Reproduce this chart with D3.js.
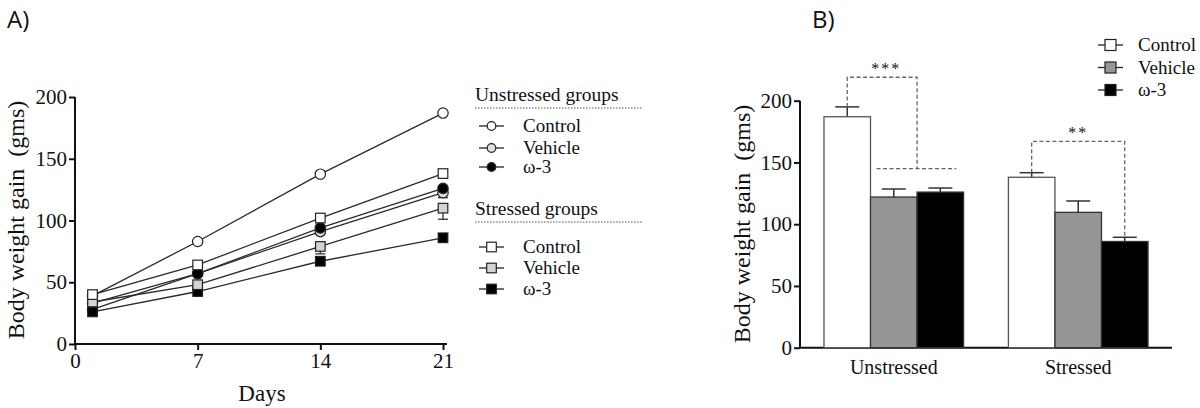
<!DOCTYPE html>
<html><head><meta charset="utf-8">
<script src="https://cdn.jsdelivr.net/npm/d3@7"></script>
<style>
body{margin:0;background:#fff;}
text{font-family:"Liberation Serif","Times New Roman",serif;fill:#111;white-space:pre;}
</style></head>
<body><svg id="c" width="1200" height="408"></svg>
<script>
// ---- Panel A data ----
const days = [1, 7, 14, 21];
const xTicksA = [0, 7, 14, 21];
const yTicks = [0, 50, 100, 150, 200];
const unstressedControl = [39, 83, 137.5, 187];
const unstressedVehicle = [33, 57, 91, 122.5];
const unstressedOmega = [28, 57, 94, 126];
const stressedControl = [40, 64, 102, 138];
const stressedVehicle = [34, 48, 79, 110];
const stressedOmega = [26, 42.5, 67, 86];
const stressedVehicleErr = [2, 3, 6, 9];
const unstressedVehicleErr = [1, 2, 2, 4];
// ---- Panel B data ----
const groups = ["Unstressed", "Stressed"];
const treatments = ["Control", "Vehicle", "ω-3"];
const barMeans = [[187, 122, 126], [138, 109.6, 86]];
const barErr = [[8, 6.5, 3.3], [3.7, 9.2, 3.4]];

const svg = d3.select("#c");
const SERIF = "Liberation Serif, Times New Roman, serif";

// ===== Panel A =====
const xA = d3.scaleLinear().domain([0, 21]).range([75, 443]);
const yA = d3.scaleLinear().domain([0, 200]).range([344, 97]);

svg.append("text").attr("x", 7).attr("y", 28).style("font-family", "Open Sans, sans-serif")
  .style("font-size", "24px").text("A)");

const gyA = svg.append("g").attr("transform", "translate(75,0)")
  .call(d3.axisLeft(yA).tickValues(yTicks).tickSize(6).tickPadding(2));
const gxA = svg.append("g").attr("transform", "translate(0,344)")
  .call(d3.axisBottom(xA).tickValues(xTicksA).tickSize(6).tickPadding(3));
gxA.select(".domain").attr("d", "M75,0H447");
gyA.select(".domain").attr("d", "M0,97V344");
[gyA, gxA].forEach(g => {
  g.attr("font-family", SERIF);
  g.select(".domain").attr("stroke", "#111").attr("stroke-width", 2);
  g.selectAll(".tick line").attr("stroke", "#111").attr("stroke-width", 2);
  g.selectAll(".tick text").style("font-size", "21px").style("font-family", SERIF).attr("fill", "#222");
});

svg.append("text").attr("transform", "translate(24,220) rotate(-90)").attr("text-anchor", "middle")
  .style("font-size", "24px").text("Body weight gain  (gms)");
svg.append("text").attr("x", 262).attr("y", 401).attr("text-anchor", "middle")
  .style("font-size", "23px").text("Days");

const seriesA = [
  {v: unstressedControl, shape: "circle", fill: "#fff"},
  {v: unstressedVehicle, shape: "circle", fill: "#dedede", err: unstressedVehicleErr},
  {v: unstressedOmega, shape: "circle", fill: "#000"},
  {v: stressedOmega, shape: "square", fill: "#000"},
  {v: stressedVehicle, shape: "square", fill: "#d4d4d4", err: stressedVehicleErr},
  {v: stressedControl, shape: "square", fill: "#fff"}
];
const lineA = d3.line().x((d, i) => xA(days[i])).y(d => yA(d));
seriesA.forEach(s => {
  svg.append("path").attr("d", lineA(s.v)).attr("fill", "none").attr("stroke", "#2a2a2a").attr("stroke-width", 1.3);
});
seriesA.forEach(s => {
  if (s.err) {
    s.v.forEach((d, i) => {
      const x = xA(days[i]);
      svg.append("line").attr("x1", x).attr("x2", x).attr("y1", yA(d)).attr("y2", yA(d - s.err[i])).attr("stroke", "#333").attr("stroke-width", 1.3);
      svg.append("line").attr("x1", x - 5).attr("x2", x + 5).attr("y1", yA(d - s.err[i])).attr("y2", yA(d - s.err[i])).attr("stroke", "#333").attr("stroke-width", 1.3);
    });
  }
});
function marker(g, shape, x, y, fill, r) {
  if (shape === "circle") {
    g.append("circle").attr("cx", x).attr("cy", y).attr("r", r).attr("fill", fill).attr("stroke", "#222").attr("stroke-width", 1.2);
  } else {
    g.append("rect").attr("x", x - r).attr("y", y - r).attr("width", 2 * r).attr("height", 2 * r)
      .attr("fill", fill).attr("stroke", "#222").attr("stroke-width", 1.2);
  }
}
seriesA.forEach(s => {
  s.v.forEach((d, i) => marker(svg, s.shape, xA(days[i]), yA(d), s.fill, s.shape === "circle" ? 5.2 : 4.8));
});

// Legend A
const legA = [
  {title: "Unstressed groups", ty: 101, ly: 108, items: [
    {label: "Control", shape: "circle", fill: "#fff", y: 126},
    {label: "Vehicle", shape: "circle", fill: "#dedede", y: 148},
    {label: "ω-3", shape: "circle", fill: "#000", y: 167}]},
  {title: "Stressed groups", ty: 215, ly: 222, items: [
    {label: "Control", shape: "square", fill: "#fff", y: 247},
    {label: "Vehicle", shape: "square", fill: "#d4d4d4", y: 268},
    {label: "ω-3", shape: "square", fill: "#000", y: 289}]}
];
legA.forEach(L => {
  svg.append("text").attr("x", 475).attr("y", L.ty).style("font-size", "19.5px").text(L.title);
  svg.append("line").attr("x1", 475).attr("x2", 643).attr("y1", L.ly).attr("y2", L.ly)
    .attr("stroke", "#555").attr("stroke-width", 1).attr("stroke-dasharray", "1.5,1.5");
  L.items.forEach(it => {
    svg.append("line").attr("x1", 479).attr("x2", 504).attr("y1", it.y).attr("y2", it.y).attr("stroke", "#222").attr("stroke-width", 1.3);
    marker(svg, it.shape, 491.5, it.y, it.fill, it.shape === "circle" ? 4.3 : 4.8);
    svg.append("text").attr("x", 523).attr("y", it.y + 6).style("font-size", "19px").text(it.label);
  });
});

// ===== Panel B =====
svg.append("text").attr("x", 812).attr("y", 28).style("font-family", "Open Sans, sans-serif")
  .style("font-size", "24px").text("B)");

const yB = d3.scaleLinear().domain([0, 200]).range([347.7, 100.7]);
const x0 = d3.scaleBand().domain(groups).range([800, 1172]).paddingInner(0.243).paddingOuter(0.13);
const x1 = d3.scaleBand().domain(treatments).range([0, x0.bandwidth()]);
const fills = ["#fff", "#969696", "#000"];

const gyB = svg.append("g").attr("transform", "translate(800,0)")
  .call(d3.axisLeft(yB).tickValues(yTicks).tickSize(6).tickPadding(2));
const gxB = svg.append("g").attr("transform", "translate(0,347.7)")
  .call(d3.axisBottom(x0).tickSize(0).tickPadding(12));
gxB.select(".domain").attr("d", "M800,0H1172");
gyB.select(".domain").attr("d", "M0,100.7V347.7");
[gyB, gxB].forEach(g => {
  g.attr("font-family", SERIF);
  g.select(".domain").attr("stroke", "#111").attr("stroke-width", 2);
  g.selectAll(".tick line").attr("stroke", "#111").attr("stroke-width", 2);
  g.selectAll(".tick text").style("font-size", "21px").style("font-family", SERIF).attr("fill", "#222");
});
gxB.selectAll(".tick text").style("font-size", "20px");

svg.append("text").attr("transform", "translate(750,224) rotate(-90)").attr("text-anchor", "middle")
  .style("font-size", "24px").text("Body weight gain  (gms)");

groups.forEach((g, gi) => {
  treatments.forEach((t, ti) => {
    const x = x0(g) + x1(t), w = x1.bandwidth(), v = barMeans[gi][ti], e = barErr[gi][ti];
    const cx = x + w / 2;
    svg.append("line").attr("x1", cx).attr("x2", cx).attr("y1", yB(v)).attr("y2", yB(v + e)).attr("stroke", "#333").attr("stroke-width", 1.5);
    svg.append("line").attr("x1", cx - 12).attr("x2", cx + 12).attr("y1", yB(v + e)).attr("y2", yB(v + e)).attr("stroke", "#333").attr("stroke-width", 1.5);
    svg.append("rect").attr("x", x).attr("y", yB(v)).attr("width", w).attr("height", yB(0) - yB(v))
      .attr("fill", fills[ti]).attr("stroke", ti === 0 ? "#555" : "#333").attr("stroke-width", 1.3);
  });
});

// significance brackets
const cxB = (gi, ti) => x0(groups[gi]) + x1(treatments[ti]) + x1.bandwidth() / 2;
const dash = {stroke: "#666", "stroke-width": 1.3, "stroke-dasharray": "4,2.5", fill: "none"};
function dpath(d) { const p = svg.append("path").attr("d", d); Object.entries(dash).forEach(([k, v]) => p.attr(k, v)); }
const b1x1 = cxB(0, 0), b1x2 = (x0(groups[0]) + x1(treatments[2]));
dpath(`M${b1x1},${yB(195)}V${yB(219)}H${b1x2}V${yB(145)}`);
dpath(`M${x0(groups[0]) + x1(treatments[1]) + 6},${yB(145)}H${cxB(0, 2) + 16}`);
svg.append("text").attr("x", (b1x1 + b1x2) / 2 + 4).attr("y", yB(222)).attr("text-anchor", "middle")
  .style("font-size", "16px").style("letter-spacing", "2px").attr("fill", "#444").text("***");
const b2x1 = cxB(1, 0), b2x2 = cxB(1, 2);
dpath(`M${b2x1},${yB(141.7)}V${yB(167)}H${b2x2}V${yB(89.4)}`);
svg.append("text").attr("x", (b2x1 + b2x2) / 2).attr("y", yB(170)).attr("text-anchor", "middle")
  .style("font-size", "16px").style("letter-spacing", "2px").attr("fill", "#444").text("**");

// Legend B
treatments.forEach((t, ti) => {
  const y = 45 + ti * 22.5;
  svg.append("line").attr("x1", 1098).attr("x2", 1123).attr("y1", y).attr("y2", y).attr("stroke", "#222").attr("stroke-width", 1.3);
  svg.append("rect").attr("x", 1105).attr("y", y - 5.5).attr("width", 11).attr("height", 11)
    .attr("fill", fills[ti]).attr("stroke", "#222").attr("stroke-width", 1.2);
  svg.append("text").attr("x", 1138).attr("y", y + 6).style("font-size", "19px").text(t);
});
</script></body></html>
